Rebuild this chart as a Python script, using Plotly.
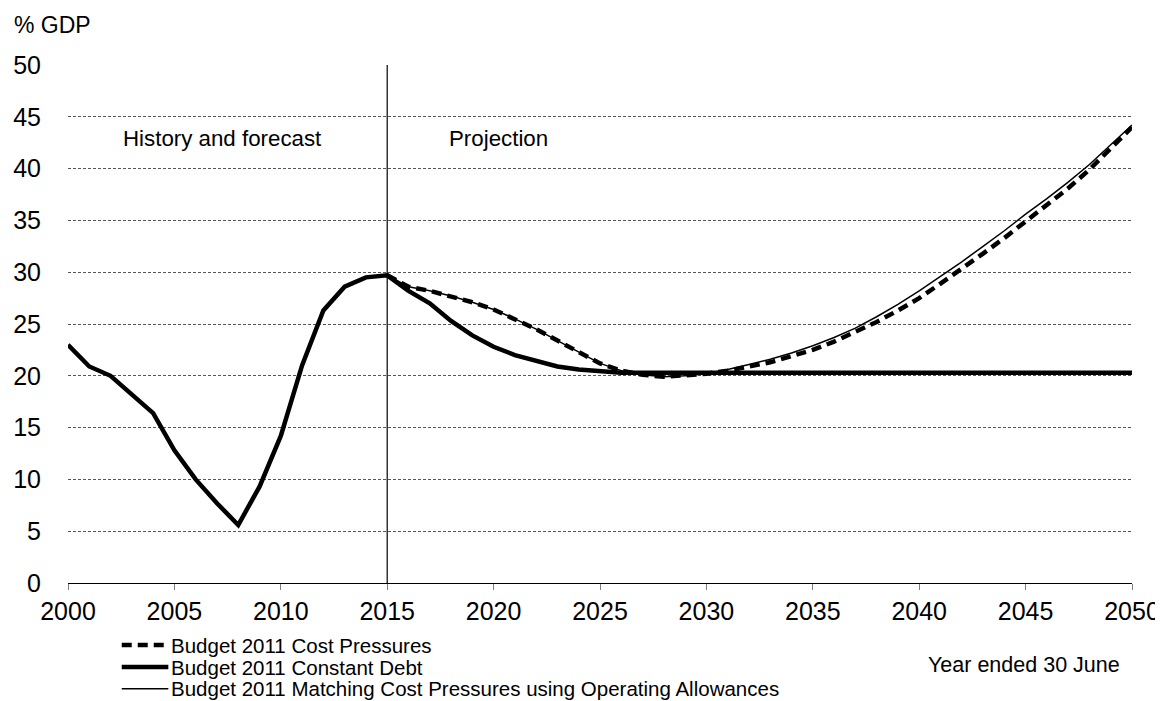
import plotly.graph_objects as go

years_all = list(range(2000, 2051))
years_proj = list(range(2015, 2051))

constant_debt = [23.0, 20.9, 20.0, 18.2, 16.4, 12.8, 10.0, 7.7, 5.6, 9.3,
                 14.2, 21.0, 26.3, 28.6, 29.5, 29.7, 28.2, 27.0, 25.3, 23.9,
                 22.8, 22.0, 21.4, 20.9, 20.6, 20.4, 20.3, 20.3, 20.3, 20.3,
                 20.3, 20.3, 20.3, 20.3, 20.3, 20.3, 20.3, 20.3, 20.3, 20.3,
                 20.3, 20.3, 20.3, 20.3, 20.3, 20.3, 20.3, 20.3, 20.3, 20.3, 20.3]

cost_pressures = [29.7, 28.6, 28.2, 27.7, 27.1, 26.4, 25.5, 24.5, 23.4, 22.3,
                  21.2, 20.5, 20.1, 19.9, 20.0, 20.2, 20.5, 20.9, 21.3, 21.9,
                  22.5, 23.3, 24.2, 25.2, 26.3, 27.5, 28.9, 30.3, 31.8, 33.3,
                  34.9, 36.5, 38.1, 39.9, 41.9, 44.0]

matching_allowances = [29.7, 28.6, 28.2, 27.7, 27.1, 26.4, 25.5, 24.5, 23.4, 22.3,
                       21.2, 20.5, 20.1, 19.9, 20.0, 20.2, 20.6, 21.1, 21.6, 22.2,
                       22.9, 23.7, 24.6, 25.7, 26.9, 28.2, 29.6, 31.0, 32.5, 34.0,
                       35.6, 37.1, 38.7, 40.4, 42.3, 44.2]

series_names = ["Budget 2011 Cost Pressures",
                "Budget 2011 Constant Debt",
                "Budget 2011 Matching Cost Pressures using Operating Allowances"]

x_ticks = list(range(2000, 2051, 5))
y_ticks = list(range(0, 51, 5))

FONT = "Liberation Sans, Arial, sans-serif"

styles = [dict(color="black", width=4.5, dash="10px,6px"),
          dict(color="black", width=4.5),
          dict(color="black", width=1.5)]

fig = go.Figure()
fig.add_trace(go.Scatter(x=years_proj, y=cost_pressures, mode="lines",
                         name=series_names[0], line=styles[0]))
fig.add_trace(go.Scatter(x=years_all, y=constant_debt, mode="lines",
                         name=series_names[1], line=styles[1]))
fig.add_trace(go.Scatter(x=years_proj, y=matching_allowances, mode="lines",
                         name=series_names[2], line=styles[2]))

# divider between history and projection
fig.add_shape(type="line", xref="x", yref="y", x0=2015, x1=2015, y0=0, y1=50,
              line=dict(color="black", width=1.2), layer="above")

annotations = [
    dict(text="% GDP", xref="paper", yref="paper", x=-0.0526, y=1.077,
         xanchor="left", yanchor="middle", showarrow=False,
         font=dict(size=23, family=FONT)),
    dict(text="History and forecast", xref="x", yref="y", x=2002.5, y=42.9,
         xanchor="left", yanchor="middle", showarrow=False,
         font=dict(size=22.3, family=FONT)),
    dict(text="Projection", xref="x", yref="y", x=2017.8, y=42.9,
         xanchor="left", yanchor="middle", showarrow=False,
         font=dict(size=22.3, family=FONT)),
    dict(text="Year ended 30 June", xref="paper", yref="paper", x=0.9906, y=-0.1583,
         xanchor="right", yanchor="middle", showarrow=False,
         font=dict(size=21.5, family=FONT)),
]

# legend drawn below the plot
legend_y = [-0.1197, -0.1622, -0.2040]
for name, st, ly in zip(series_names, styles, legend_y):
    fig.add_shape(type="line", xref="paper", yref="paper", x0=0.0505, x1=0.0943,
                  y0=ly, y1=ly, line=st)
    annotations.append(dict(text=name, xref="paper", yref="paper", x=0.0950, y=ly,
                            xanchor="left", yanchor="middle", showarrow=False,
                            font=dict(size=20.5, family=FONT)))

# page body has an 8px margin, so the figure is sized/positioned to compensate
fig.update_layout(
    width=1155, height=693,
    margin=dict(l=60, r=31, t=57, b=118),
    paper_bgcolor="white", plot_bgcolor="white",
    font=dict(family=FONT, color="black", size=22),
    showlegend=False,
    xaxis=dict(range=[2000, 2050], tickvals=x_ticks, ticktext=[str(v) for v in x_ticks],
               showgrid=False, zeroline=False, showline=True, linecolor="black",
               linewidth=1.2, ticks="outside", ticklen=6, tickcolor="#808080",
               tickfont=dict(size=25, family=FONT, color="black"),
               ticklabelstandoff=0, automargin=False, fixedrange=True),
    yaxis=dict(range=[0, 50], tickvals=y_ticks, showgrid=True, gridcolor="#555555",
               griddash="3px,2px", gridwidth=1, zeroline=False, showline=False,
               ticks="", tickfont=dict(size=25, family=FONT, color="black"),
               ticklabelstandoff=26, automargin=False, fixedrange=True),
    annotations=annotations,
)

fig.write_html("out.html")
